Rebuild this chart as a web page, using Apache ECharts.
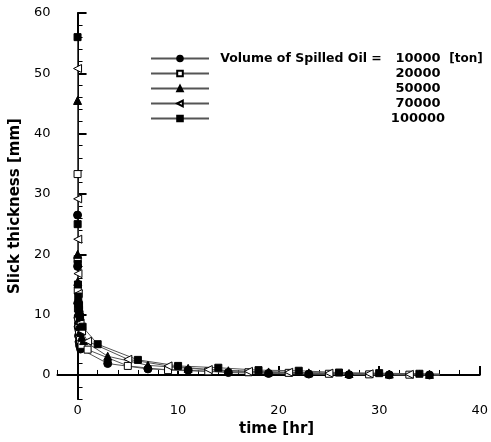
<!DOCTYPE html>
<html><head><meta charset="utf-8">
<script src="https://cdn.jsdelivr.net/npm/echarts@6/dist/echarts.min.js"></script>
<style>html,body{margin:0;padding:0;background:#fff}#c{width:491px;height:442px}</style>
</head><body><div id="c"></div>
<script>
const volumes = ['10000', '20000', '50000', '70000', '100000'];

const t10000 = [0, 0.01, 0.02, 0.04, 0.06, 0.1, 0.15, 0.2, 0.3, 3, 7, 11, 15, 19, 23, 27, 31, 35, 36];
const h10000 = [26.5, 18, 11.9, 9.5, 8.0, 6.5, 5.5, 4.9, 4.3, 1.9, 1.0, 0.8, 0.4, 0.25, 0.15, 0.05, 0.02, 0.0, 0.0];

const t20000 = [0, 0.01, 0.02, 0.04, 0.07, 0.1, 0.15, 0.25, 0.4, 1, 5, 9, 13, 17, 21, 25, 29, 33, 36];
const h20000 = [33.3, 19.2, 14.0, 11.0, 9.0, 7.8, 6.8, 5.8, 5.0, 4.2, 1.5, 0.8, 0.6, 0.45, 0.35, 0.2, 0.1, 0.05, 0.02];

const t50000 = [0, 0.01, 0.02, 0.04, 0.07, 0.1, 0.15, 0.25, 0.4, 0.6, 3, 7, 11, 15, 19, 23, 27, 31, 35, 36];
const h50000 = [45.5, 20.0, 15.5, 12.5, 10.5, 9.2, 8.2, 7.2, 6.3, 5.7, 3.1, 1.6, 1.1, 0.7, 0.5, 0.35, 0.25, 0.15, 0.1, 0.1];

const t70000 = [0, 0.01, 0.02, 0.04, 0.07, 0.1, 0.15, 0.25, 0.4, 1, 5, 9, 13, 17, 21, 25, 29, 33, 36];
const h70000 = [50.8, 29.2, 22.5, 16.8, 13.5, 11.5, 10.0, 8.6, 7.3, 5.6, 2.6, 1.5, 0.9, 0.6, 0.45, 0.3, 0.2, 0.1, 0.1];

const t100000 = [0, 0.01, 0.02, 0.04, 0.07, 0.1, 0.15, 0.25, 0.5, 2, 6, 10, 14, 18, 22, 26, 30, 34, 36];
const h100000 = [56.0, 25.0, 18.4, 15.0, 13.0, 11.8, 10.8, 9.6, 8.0, 5.1, 2.5, 1.5, 1.2, 0.8, 0.7, 0.4, 0.3, 0.2, 0.15];

const xMajorTicks = [0, 10, 20, 30, 40];
const xMinorTicks = [-2, 0, 2, 4, 6, 8, 10, 12, 14, 16, 18, 20, 22, 24, 26, 28, 30, 32, 34, 36, 38, 40];
const yMajorTicks = [0, 10, 20, 30, 40, 50, 60];
const yMinorTicks = [-4, -2, 0, 2, 4, 6, 8, 10, 12, 14, 16, 18, 20, 22, 24, 26, 28, 30, 32, 34, 36, 38, 40, 42, 44, 46, 48, 50, 52, 54, 56, 58, 60];

const seriesData = [[t10000, h10000], [t20000, h20000], [t50000, h50000], [t70000, h70000], [t100000, h100000]];
const styles = [
  { symbol: 'circle', size: 8, rot: 0, fill: '#000' },
  { symbol: 'rect', size: 7, rot: 0, fill: '#fff' },
  { symbol: 'triangle', size: 8, rot: 0, fill: '#000' },
  { symbol: 'triangle', size: 8, rot: 90, fill: '#fff' },
  { symbol: 'rect', size: 7, rot: 0, fill: '#000' }
];

function build(ts, hs) {
  return ts.map((t, i) => i === ts.length - 1 ? { value: [t, hs[i]], symbol: 'none' } : [t, hs[i]]);
}

const font = 'DejaVu Sans';
const chart = echarts.init(document.getElementById('c'), null, { renderer: 'canvas' });
chart.setOption({
  animation: false,
  backgroundColor: '#fff',
  grid: { left: 57, right: 8, top: 13, bottom: 39, containLabel: false },
  legend: {
    orient: 'vertical', left: 145, top: 46, itemWidth: 58, itemHeight: 7, itemGap: 0,
    selectedMode: false,
    data: volumes,
    formatter: n => n === volumes[0] ? `{p|Volume of Spilled Oil =}{n|${n}}{u|[ton]}` : `{p| }{n|${n}}{u| }`,
    textStyle: {
      fontFamily: font, fontWeight: 'bold', fontSize: 13, color: '#000', lineHeight: 15,
      rich: {
        p: { width: 174, align: 'right', fontFamily: font, fontWeight: 'bold', fontSize: 12.5, lineHeight: 15 },
        n: { width: 60, align: 'right', fontFamily: font, fontWeight: 'bold', fontSize: 13, lineHeight: 15 },
        u: { width: 36, align: 'center', fontFamily: font, fontWeight: 'bold', fontSize: 12, lineHeight: 15 }
      }
    }
  },
  xAxis: [
    {
      type: 'value', min: -2, max: 40, position: 'bottom',
      axisLine: { lineStyle: { color: '#000', width: 2 } },
      axisTick: { inside: true, length: 9, customValues: xMajorTicks, lineStyle: { color: '#000', width: 2 } },
      axisLabel: { customValues: xMajorTicks, color: '#000', fontFamily: font, fontSize: 13, margin: 5 },
      splitLine: { show: false },
      name: 'time [hr]', nameLocation: 'middle', nameGap: 14,
      nameTextStyle: { fontFamily: font, fontWeight: 'bold', fontSize: 15, color: '#000', verticalAlign: 'top', padding: [0, 0, 0, 16] }
    },
    {
      type: 'value', min: -2, max: 40, position: 'bottom',
      axisLine: { show: false },
      axisTick: { inside: true, length: 5, customValues: xMinorTicks, lineStyle: { color: '#000', width: 1 } },
      axisLabel: { show: false }, splitLine: { show: false }
    }
  ],
  yAxis: [
    {
      type: 'value', min: -4, max: 60, position: 'left',
      axisLine: { show: true, lineStyle: { color: '#000', width: 2 } },
      axisTick: { show: true, inside: true, length: 9, customValues: yMajorTicks, lineStyle: { color: '#000', width: 2 } },
      axisLabel: { customValues: yMajorTicks, color: '#000', fontFamily: font, fontSize: 13, margin: 7 },
      splitLine: { show: false },
      name: 'Slick thickness [mm]', nameLocation: 'middle', nameGap: 34,
      nameTextStyle: { fontFamily: font, fontWeight: 'bold', fontSize: 15, color: '#000' }
    },
    {
      type: 'value', min: -4, max: 60, position: 'left',
      axisLine: { show: false },
      axisTick: { show: true, inside: true, length: 5, customValues: yMinorTicks, lineStyle: { color: '#000', width: 1 } },
      axisLabel: { show: false }, splitLine: { show: false }
    }
  ],
  series: seriesData.map((d, i) => ({
    name: volumes[i], type: 'line', xAxisIndex: 0, yAxisIndex: 0,
    data: build(d[0], d[1]),
    showAllSymbol: true,
    symbol: styles[i].symbol, symbolSize: styles[i].size, symbolRotate: styles[i].rot,
    lineStyle: { color: '#555', width: 1 },
    itemStyle: { color: styles[i].fill, borderColor: '#000', borderWidth: 1 },
    emphasis: { disabled: true }
  }))
});
</script></body></html>
